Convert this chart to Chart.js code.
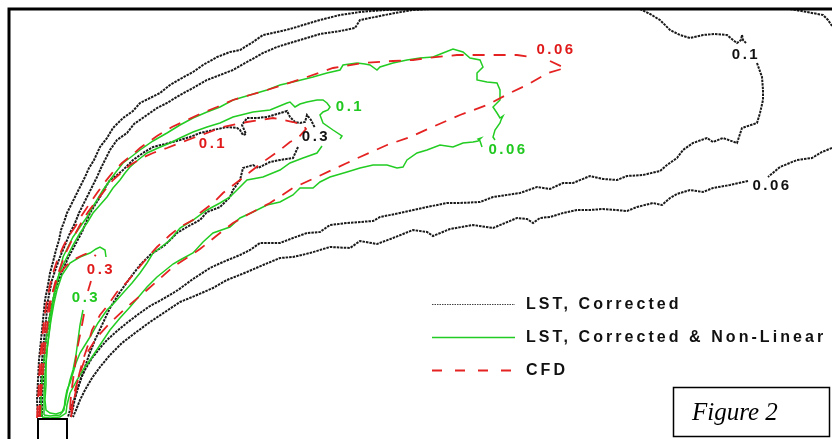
<!DOCTYPE html>
<html><head><meta charset="utf-8">
<script src="https://cdn.jsdelivr.net/npm/chart.js@4/dist/chart.umd.min.js"></script>
<style>html,body{margin:0;padding:0;background:#fff;overflow:hidden}#wrap{width:832px;height:439px}</style>
</head><body><div id="wrap"><canvas id="c" width="832" height="439"></canvas></div>
<script>
// Coordinates (x to the right, y downward).
// LST, Corrected (black dotted) contours
const lst006 = [
 [[38,417],[37,400],[38,380],[39,360],[41,340],[43,320],[45,300],[48,285],[50,273],[53,262],[56,250],[59,240],[61,230],[64,222],[67,213],[71,205],[75,197],[80,187],[85,177],[89,168],[94,160],[100,147],[107,138],[113,128],[123,118],[133,111],[140,103],[150,98],[160,93],[170,85],[182,78],[193,72],[203,65],[217,57],[230,52],[240,50],[253,42],[263,35],[277,32],[290,29],[300,26],[320,20],[340,15],[360,12],[385,10],[413,9]],
 [[790,9],[807,12],[823,15],[828,20],[832,26]],
 [[832,148],[822,152],[812,158],[797,160],[780,167],[768,177]],
 [[748,181],[730,185],[713,188],[703,192],[690,190],[677,194],[670,198],[662,205],[653,203],[637,207],[627,211],[603,209],[590,210],[577,210],[563,213],[550,217],[540,218],[533,223],[527,219],[517,218],[493,228],[473,225],[450,229],[433,236],[427,232],[413,230],[393,238],[377,244],[360,241],[350,248],[330,247],[310,253],[293,257],[280,258],[263,265],[247,272],[227,280],[213,288],[197,295],[180,302],[165,312],[150,322],[135,333],[122,343],[110,355],[100,367],[92,378],[85,390],[80,400],[76,410],[73,417]]
];
const lst01 = [
 [[40,417],[40,400],[41,380],[42,360],[44,340],[46,320],[48,300],[52,280],[56,268],[60,257],[65,245],[70,233],[75,223],[79,213],[83,205],[87,197],[92,187],[97,177],[101,168],[105,160],[110,150],[117,140],[127,133],[134,124],[147,115],[157,108],[167,103],[180,95],[193,88],[207,80],[220,75],[233,70],[247,62],[263,53],[277,47],[290,43],[300,40],[320,34],[340,31],[355,28],[360,20],[375,17],[395,13],[413,10],[430,9]],
 [[640,9],[650,14],[660,20],[670,30],[680,35],[690,38],[703,35],[715,34],[727,35],[733,40],[737,43],[741,40],[742,35],[743,40],[746,43]],
 [[757,63],[762,77],[763,90],[763,100],[760,113],[757,123],[748,126],[742,128],[737,143],[723,138],[713,142],[707,138],[693,143],[683,150],[677,158],[667,165],[660,171],[643,175],[627,176],[617,180],[603,179],[590,176],[573,183],[563,183],[550,189],[537,187],[520,193],[493,197],[480,202],[460,203],[447,203],[427,207],[400,213],[380,217],[373,221],[347,223],[330,225],[320,232],[307,233],[293,238],[280,243],[260,243],[250,250],[240,255],[223,262],[210,268],[193,279],[178,290],[163,299],[150,306],[140,313],[128,322],[117,331],[107,340],[100,348],[92,358],[86,368],[81,378],[77,390],[74,403],[71,417]]
];
const lst03 = [
 [[42,417],[42,400],[43,380],[44,360],[46,340],[49,320],[53,300],[57,285],[62,272],[68,258],[75,245],[82,232],[90,213],[95,205],[100,197],[105,188],[110,180],[117,175],[123,170],[128,165],[133,160],[143,153],[153,147],[165,144],[180,140],[190,137],[200,133],[213,130],[227,127],[237,128],[240,130],[243,135],[246,134],[242,125],[247,118],[257,118],[267,117],[277,114],[287,111],[290,117],[295,122],[300,123],[305,122],[307,115],[311,120],[315,128]],
 [[298,147],[293,158],[280,160],[270,162],[258,168],[253,165],[243,168],[240,180],[233,190],[230,197],[220,207],[207,212],[200,220],[187,227],[177,233],[165,245],[150,255],[140,265],[130,278],[120,292],[110,308],[102,325],[95,340],[89,355],[84,370],[79,385],[74,400],[70,410],[68,417]]
];
// LST, Corrected & Non-Linear (green) contours
const nl006 = [
 [[42,417],[41,400],[42,380],[44,360],[46,340],[49,320],[53,300],[56,287],[60,270],[63,257],[68,247],[73,237],[80,227],[87,217],[92,208],[97,200],[103,190],[110,180],[116,172],[123,163],[131,157],[140,150],[153,141],[167,133],[180,125],[193,118],[207,112],[220,107],[233,100],[250,95],[267,90],[280,85],[297,81],[313,77],[327,73],[340,70],[343,65],[350,64],[357,63],[365,64],[370,65],[377,70],[380,67],[393,63],[407,60],[420,58],[433,57],[443,53],[453,49],[463,52],[470,58],[480,60],[483,67],[477,73],[477,80],[487,82],[497,83],[500,90],[500,100],[493,107],[497,113],[500,118],[503,116],[501,120],[500,123],[495,130],[493,137],[495,140]],
 [[482,147],[480,141],[478,139],[481,138],[478,141],[473,142],[463,143],[453,147],[440,145],[427,150],[417,153],[407,160],[403,167],[397,168],[387,165],[373,165],[360,168],[347,172],[330,177],[320,182],[313,188],[300,188],[293,195],[280,202],[267,205],[253,212],[240,218],[230,227],[213,233],[203,242],[193,253],[180,260],[173,264],[157,277],[147,287],[130,307],[120,318],[110,330],[100,345],[90,360],[83,370],[77,380],[70,393],[67,405],[66,413],[60,417],[50,418],[42,417]]
];
const nl01 = [
 [[44,415],[44,395],[45,375],[47,350],[50,325],[53,300],[57,280],[62,267],[67,257],[73,245],[80,233],[87,223],[93,213],[100,205],[107,197],[113,188],[120,180],[125,173],[130,167],[138,160],[147,153],[158,148],[170,143],[180,138],[193,132],[207,127],[220,123],[233,117],[253,112],[270,110],[287,103],[290,102],[295,107],[300,104],[307,102],[317,100],[323,100],[327,103],[330,107],[328,110],[323,112],[320,115],[323,123],[333,130],[342,136],[340,139]],
 [[322,146],[317,153],[303,158],[290,163],[280,170],[263,177],[247,180],[237,190],[230,197],[220,203],[207,210],[193,220],[180,228],[170,240],[160,248],[153,253],[147,263],[140,273],[132,283],[123,293],[115,302],[107,310],[98,323],[90,337],[85,345],[80,353],[76,363],[73,373],[70,383],[67,390],[65,400],[64,410],[60,415],[50,416],[44,415]]
];
const nl03 = [
 [[106,257],[105,250],[100,247],[96,249],[90,253],[80,257],[70,263],[62,275],[57,290],[54,303],[51,320],[49,335],[47,350],[46,365],[46,385],[45,400],[46,410],[50,413],[56,414],[62,412],[65,405],[67,393],[70,380],[73,370],[76,355],[78,340],[80,325],[82,315],[83,310]]
];
// CFD (red dashed) contours
const cfd006 = [
 [[37,418],[38,400],[39,380],[40,360],[42,340],[44,320],[47,300],[50,285],[54,270],[58,258],[63,247],[68,237],[75,227],[82,215],[90,203],[97,193],[105,182],[113,172],[122,163],[132,155],[140,148],[157,136],[172,127],[187,120],[202,113],[217,107],[233,100],[250,95],[267,90],[280,86],[307,77],[333,68],[363,63],[393,61],[413,60],[427,58],[457,55],[493,55],[517,55],[530,57]],
 [[550,61],[565,68],[548,73],[527,85],[510,93],[487,105],[460,115],[437,125],[410,137],[387,145],[360,157],[347,163],[317,177],[293,188],[270,203],[247,215],[233,223],[220,233],[200,249],[173,267],[147,290],[127,307],[110,323],[97,337],[87,353],[80,373],[75,390],[72,407],[70,417]]
];
const cfd01 = [
 [[40,417],[41,395],[43,370],[45,345],[48,320],[51,300],[55,283],[60,268],[67,250],[73,238],[80,225],[88,212],[97,200],[105,190],[113,180],[122,172],[130,165],[142,158],[153,153],[167,148],[180,143],[193,138],[207,133],[223,127],[247,122],[273,118],[293,122],[303,125],[306,129],[298,138],[290,142],[280,150],[263,162],[250,172],[240,180],[223,193],[213,203],[200,213],[193,220],[180,227],[170,235],[157,247],[147,258],[137,270],[127,282],[117,292],[108,305],[100,315],[92,330],[88,345],[83,360],[79,375],[76,390],[73,405],[71,417]]
];
const cfd03 = [
 [[39,417],[40,395],[41,370],[43,345],[46,320],[50,300],[55,285],[60,273],[67,265],[75,259],[83,255],[90,252],[96,256]],
 [[91,281],[88,291]],
 [[84,314],[82,325],[80,335],[77,350],[75,365],[73,380],[71,395],[70,410],[69,417]]
];
// Plot frame and stack outline
const frameLine = [[9,439],[9,9],[832,9]];
const stackOutline = [[38,439],[38,419],[67,419],[67,439]];
// Contour value labels
const labelText = ['0.06','0.1','0.3','0.1','0.06','0.1','0.06','0.3','0.3'];
const labelSeries = ['cfd','nl','lst','cfd','nl','lst','lst','cfd','nl'];
const labelX = [555,349,315,212,507,745,771,100,85];
const labelY = [50,107,137,144,150,55,186,270,298];
// Legend entries
const legendNames = ['LST, Corrected','LST, Corrected & Non-Linear','CFD'];
const figureTitle = 'Figure 2';

const styles = {
  lst: {borderColor:'#1a1a1a', borderWidth:2, borderDash:[2.5,1]},
  nl:  {borderColor:'#22cc22', borderWidth:1.5, borderDash:[]},
  cfd: {borderColor:'#e52222', borderWidth:1.8, borderDash:[12,9]}
};
const textColor = {lst:'#111', nl:'#20c820', cfd:'#e01a1a'};

const datasets = [];
function addSeries(segs, key, order){
  segs.forEach(seg => datasets.push(Object.assign({
    data: seg.map(([x,y]) => ({x, y})), showLine:true, pointRadius:0, tension:0, fill:false, order
  }, styles[key])));
}
addSeries(lst006,'lst',3); addSeries(lst01,'lst',3); addSeries(lst03,'lst',3);
addSeries(nl006,'nl',2); addSeries(nl01,'nl',2); addSeries(nl03,'nl',2);
addSeries(cfd006,'cfd',1); addSeries(cfd01,'cfd',1); addSeries(cfd03,'cfd',1);
datasets.push({data: frameLine.map(([x,y])=>({x,y})), showLine:true, pointRadius:0, borderColor:'#000', borderWidth:3, order:0});
datasets.push({data: stackOutline.map(([x,y])=>({x,y})), showLine:true, pointRadius:0, borderColor:'#000', borderWidth:2, order:0});

const overlay = {
  id:'overlay',
  afterDatasetsDraw(chart){
    const {ctx, scales:{x, y}} = chart;
    ctx.save();
    // contour labels
    ctx.font = 'bold 15px "Liberation Sans", Arial, sans-serif';
    ctx.letterSpacing = '2.5px';
    ctx.textAlign = 'center'; ctx.textBaseline = 'middle';
    labelText.forEach((t,i) => {
      ctx.fillStyle = textColor[labelSeries[i]];
      ctx.fillText(t, x.getPixelForValue(labelX[i]) + 1, y.getPixelForValue(labelY[i]));
    });
    // legend
    const keys = ['lst','nl','cfd'];
    const rows = [304, 337, 370];
    ctx.font = 'bold 16px "Liberation Sans", Arial, sans-serif';
    ctx.letterSpacing = '3.05px';
    ctx.textAlign = 'left';
    keys.forEach((k,i) => {
      const s = styles[k];
      ctx.beginPath();
      ctx.strokeStyle = k==='lst' ? '#444' : s.borderColor; ctx.lineWidth = k==='cfd'?2:(k==='lst'?1.2:s.borderWidth);
      ctx.setLineDash(k==='cfd'?[10,13]:(k==='lst'?[1.5,1]:[]));
      ctx.moveTo(432, rows[i]+0.5); ctx.lineTo(515, rows[i]+0.5); ctx.stroke();
      ctx.setLineDash([]);
      ctx.fillStyle = '#111';
      ctx.fillText(legendNames[i], 526, rows[i]+1);
    });
    // figure box
    ctx.letterSpacing = '0px';
    ctx.strokeStyle = '#000'; ctx.lineWidth = 1.5;
    ctx.strokeRect(673.5, 387.5, 156, 49);
    ctx.font = 'italic 25px "Liberation Serif", "Times New Roman", serif';
    ctx.fillStyle = '#000';
    ctx.fillText(figureTitle, 692, 413);
    ctx.restore();
  }
};

new Chart(document.getElementById('c'), {
  type:'scatter',
  data:{datasets},
  options:{
    responsive:false, animation:false, events:[],
    layout:{padding:0},
    plugins:{legend:{display:false}, tooltip:{enabled:false}},
    scales:{
      x:{type:'linear', min:0, max:832, display:false},
      y:{type:'linear', min:0, max:439, reverse:true, display:false}
    }
  },
  plugins:[overlay]
});
</script></body></html>
